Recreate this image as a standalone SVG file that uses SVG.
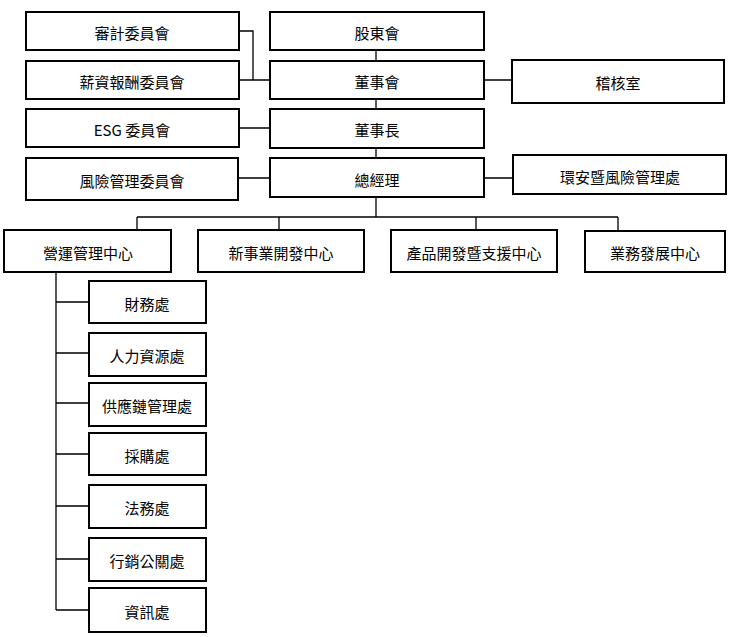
<svg xmlns="http://www.w3.org/2000/svg" width="731" height="637" viewBox="0 0 731 637">
<style>
.b{fill:#fff;stroke:#000;stroke-width:2}
.t{font-family:"Noto Sans CJK TC","Noto Sans",sans-serif;font-size:15px;fill:#000;text-anchor:middle}
.c{fill:none;stroke:#000;stroke-width:1.3}
</style>
<rect width="731" height="637" fill="#fff"/>
<g id="connectors">
<path class="c" d="M239,31H253V80M239,80H270M239,128H270M238,178H270M484,80H512M484,178H513"/>
<path class="c" d="M376,50V61M376,99V109M376,148V158M376,197V217M137,217H618M137,217V230M279,217V230M476,217V230M618,217V231"/>
<path class="c" d="M56,272V610M56,302H89M56,353H89M56,403H89M56,454H89M56,506H89M56,559H89M56,610H89"/>
</g>
<g id="n_audit"><rect class="b" x="26" y="12" width="213" height="38"/><text class="t" x="132" y="39">審計委員會</text></g>
<g id="n_comp"><rect class="b" x="26" y="61" width="213" height="38"/><text class="t" x="132" y="88">薪資報酬委員會</text></g>
<g id="n_esg"><rect class="b" x="26" y="109" width="213" height="38"/><text class="t" x="132" y="136">ESG 委員會</text></g>
<g id="n_risk"><rect class="b" x="26" y="158" width="212" height="42"/><text class="t" x="132" y="187">風險管理委員會</text></g>
<g id="n_share"><rect class="b" x="270" y="12" width="214" height="38"/><text class="t" x="377" y="39">股東會</text></g>
<g id="n_board"><rect class="b" x="270" y="61" width="214" height="38"/><text class="t" x="377" y="88">董事會</text></g>
<g id="n_chair"><rect class="b" x="270" y="109" width="214" height="39"/><text class="t" x="377" y="136">董事長</text></g>
<g id="n_gm"><rect class="b" x="270" y="158" width="214" height="39"/><text class="t" x="377" y="186">總經理</text></g>
<g id="n_auditoffice"><rect class="b" x="512" y="60" width="212" height="43"/><text class="t" x="618" y="89">稽核室</text></g>
<g id="n_env"><rect class="b" x="513" y="155" width="213" height="39"/><text class="t" x="620" y="183">環安暨風險管理處</text></g>
<g id="n_ops"><rect class="b" x="4" y="230" width="167" height="42"/><text class="t" x="88" y="259">營運管理中心</text></g>
<g id="n_newbiz"><rect class="b" x="198" y="230" width="166" height="42"/><text class="t" x="281" y="259">新事業開發中心</text></g>
<g id="n_prod"><rect class="b" x="391" y="230" width="166" height="42"/><text class="t" x="474" y="259">產品開發暨支援中心</text></g>
<g id="n_sales"><rect class="b" x="585" y="231" width="140" height="41"/><text class="t" x="655" y="259">業務發展中心</text></g>
<g id="n_fin"><rect class="b" x="89" y="281" width="117" height="42"/><text class="t" x="147" y="310">財務處</text></g>
<g id="n_hr"><rect class="b" x="89" y="333" width="117" height="43"/><text class="t" x="147" y="362">人力資源處</text></g>
<g id="n_scm"><rect class="b" x="89" y="383" width="117" height="43"/><text class="t" x="147" y="412">供應鏈管理處</text></g>
<g id="n_purch"><rect class="b" x="89" y="433" width="117" height="42"/><text class="t" x="147" y="462">採購處</text></g>
<g id="n_legal"><rect class="b" x="89" y="485" width="117" height="43"/><text class="t" x="147" y="514">法務處</text></g>
<g id="n_mkt"><rect class="b" x="89" y="538" width="117" height="43"/><text class="t" x="147" y="567">行銷公關處</text></g>
<g id="n_it"><rect class="b" x="89" y="588" width="117" height="44"/><text class="t" x="147" y="618">資訊處</text></g>
</svg>
